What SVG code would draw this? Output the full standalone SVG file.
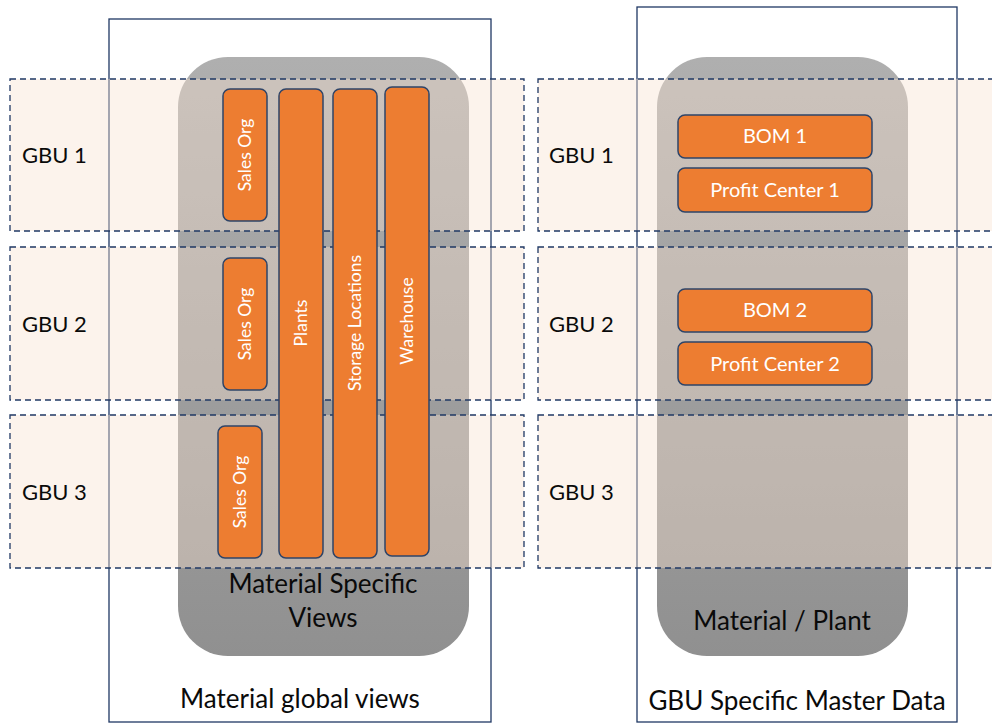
<svg xmlns="http://www.w3.org/2000/svg" width="992" height="724" viewBox="0 0 992 724">
<defs>
<linearGradient id="gray" x1="0" y1="0" x2="0" y2="1">
<stop offset="0" stop-color="#AFAFAF"/>
<stop offset="1" stop-color="#909090"/>
</linearGradient>
<style>
.frame{fill:none;stroke:#1F3864;stroke-width:1.3}
.pill{fill:url(#gray)}
.band{fill:#F8E0D0;fill-opacity:0.4;stroke:#1F3864;stroke-width:1.3;stroke-dasharray:6 4}
.box{fill:#ED7D31;stroke:#2E4468;stroke-width:1.5}
.t{font-family:Lato,"Liberation Sans",sans-serif;fill:#0A0A0A}
.w{font-family:Lato,"Liberation Sans",sans-serif;fill:#FFFFFF;text-anchor:middle}
.gbu{font-size:22px}
.v{font-size:17.5px}
.h{font-size:20px}
.big{font-size:26px;text-anchor:middle}
</style>
</defs>
<rect width="992" height="724" fill="#FFFFFF"/>
<g id="frame-global"><rect class="frame" x="109" y="19" width="382" height="703"/></g>
<g id="frame-gbu"><rect class="frame" x="637" y="7" width="320" height="715"/></g>
<g id="material-specific-views"><rect class="pill" x="178" y="57" width="291" height="599" rx="50" ry="50"/></g>
<g id="material-plant"><rect class="pill" x="657" y="57" width="251" height="599" rx="50" ry="50"/></g>
<g id="bands">
<rect class="band" x="10" y="79" width="514" height="152"/>
<rect class="band" x="10" y="247" width="514" height="153"/>
<rect class="band" x="10" y="415" width="514" height="153"/>
<rect class="band" x="538" y="79" width="470" height="152"/>
<rect class="band" x="538" y="247" width="470" height="153"/>
<rect class="band" x="538" y="415" width="470" height="153"/>
</g>
<g id="gbu-labels">
<text class="t gbu" x="22" y="163">GBU 1</text>
<text class="t gbu" x="22" y="332">GBU 2</text>
<text class="t gbu" x="22" y="500">GBU 3</text>
<text class="t gbu" x="549" y="163">GBU 1</text>
<text class="t gbu" x="549" y="332">GBU 2</text>
<text class="t gbu" x="549" y="500">GBU 3</text>
</g>
<g id="sales-org-1"><rect class="box" x="223" y="89" width="44" height="132" rx="7"/><text class="w v" transform="translate(245,155) rotate(-90)" dy="0.35em">Sales Org</text></g>
<g id="sales-org-2"><rect class="box" x="223" y="258" width="44" height="132" rx="7"/><text class="w v" transform="translate(245,324) rotate(-90)" dy="0.35em">Sales Org</text></g>
<g id="sales-org-3"><rect class="box" x="218" y="426" width="44" height="132" rx="7"/><text class="w v" transform="translate(240,492) rotate(-90)" dy="0.35em">Sales Org</text></g>
<g id="plants"><rect class="box" x="279" y="89" width="44" height="469" rx="7"/><text class="w v" transform="translate(301,323) rotate(-90)" dy="0.35em">Plants</text></g>
<g id="storage-locations"><rect class="box" x="333" y="89" width="44" height="469" rx="7"/><text class="w v" transform="translate(355,323) rotate(-90)" dy="0.35em">Storage Locations</text></g>
<g id="warehouse"><rect class="box" x="385" y="87" width="44" height="469" rx="7"/><text class="w v" transform="translate(407,321) rotate(-90)" dy="0.35em">Warehouse</text></g>
<g id="bom-1"><rect class="box" x="678" y="115" width="194" height="43" rx="7"/><text class="w h" x="775" y="143">BOM 1</text></g>
<g id="profit-center-1"><rect class="box" x="678" y="168" width="194" height="44" rx="7"/><text class="w h" x="775" y="197">Profit Center 1</text></g>
<g id="bom-2"><rect class="box" x="678" y="289" width="194" height="43" rx="7"/><text class="w h" x="775" y="317">BOM 2</text></g>
<g id="profit-center-2"><rect class="box" x="678" y="342" width="194" height="43" rx="7"/><text class="w h" x="775" y="371">Profit Center 2</text></g>
<g id="captions">
<text class="t big" x="323" y="593">Material Specific</text>
<text class="t big" x="323" y="627">Views</text>
<text class="t big" x="782" y="630">Material / Plant</text>
<text class="t big" x="300" y="708">Material global views</text>
<text class="t big" x="797" y="710">GBU Specific Master Data</text>
</g>
<g id="connectors"></g>
</svg>
